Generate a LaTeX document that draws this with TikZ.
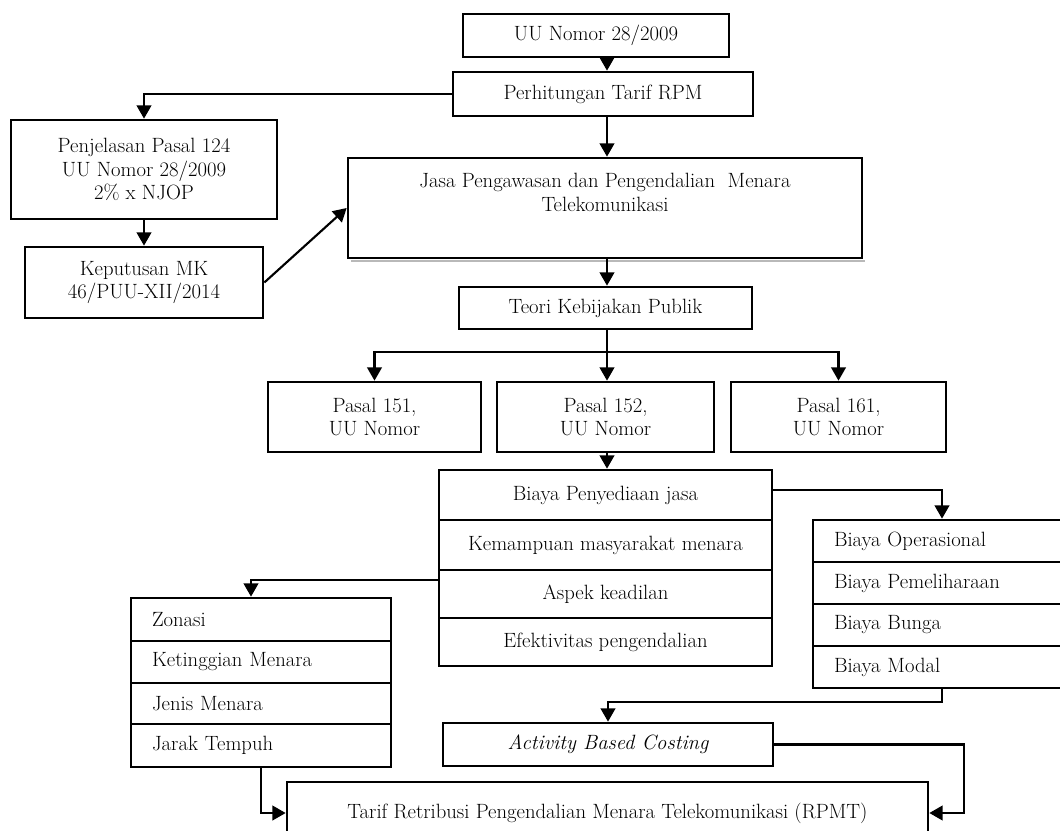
\documentclass[tikz,border=0pt]{standalone}
\usepackage{fontspec}
\usetikzlibrary{arrows.meta}
\begin{document}
\begin{tikzpicture}[x=0.75pt,y=-0.75pt,
  box/.style={draw, line width=2pt, rectangle, inner sep=0pt, align=center,
              font=\fontsize{15.5}{17.6}\selectfont},
  sz/.style 2 args={minimum width=#1*0.75pt, minimum height=#2*0.75pt},
  lbox/.style={box, align=left, inner xsep=15.75pt, text width=#1},
  arr/.style={line width=1.6pt, -{Triangle[length=10pt,width=11pt]}},
  conn/.style={line width=1.6pt}]
\useasboundingbox (0,0) rectangle (1060,831);
\clip (0,0) rectangle (1060,831);

% coordinates for connector bends
\coordinate (ax) at (607,0);
\coordinate (br) at (607,352);
\coordinate (zc) at (251,580);
\coordinate (bc) at (942,490);
\coordinate (mc) at (942,702);
\coordinate (rc) at (964,0);

% shadow under Jasa box
\draw[gray!55, line width=2pt] (351,261) -- (865,261);

\node[box, sz={266}{43}] (uu) at (596,35.5) {UU Nomor 28/2009};
\node[box, sz={300}{44}] (perh) at (603,94) {Perhitungan Tarif RPM};
\node[box, sz={266}{99}] (penj) at (144,169.5) {Penjelasan Pasal 124\\UU Nomor 28/2009\\2\% x NJOP};
\node[box, sz={238}{71}] (kep) at (144,282.5) {Keputusan MK\\46/PUU-XII/2014};
\node[box, sz={514}{100}] (jasa) at (605,208) {Jasa Pengawasan dan Pengendalian\ \ Menara\\Telekomunikasi\\[6pt]\mbox{}};
\node[box, sz={293}{42}] (teori) at (605.5,308) {Teori Kebijakan Publik};

\node[box, sz={213}{70}] (p151) at (374.5,417) {Pasal 151,\\UU Nomor};
\node[box, sz={217}{70}] (p152) at (605.5,417) {Pasal 152,\\UU Nomor};
\node[box, sz={215}{70}] (p161) at (838.5,417) {Pasal 161,\\UU Nomor};

\node[box, sz={333}{50}] (g1) at (605.5,495) {Biaya Penyediaan jasa};
\node[box, sz={333}{50}] (g2) at (605.5,545) {Kemampuan masyarakat menara};
\node[box, sz={333}{48}] (g3) at (605.5,594) {Aspek keadilan};
\node[box, sz={333}{48}] (g4) at (605.5,642) {Efektivitas pengendalian};

\node[lbox=161.25pt, sz={257}{42}] (b1) at (941.5,541) {Biaya Operasional};
\node[lbox=161.25pt, sz={257}{42}] (b2) at (941.5,583) {Biaya Pemeliharaan};
\node[lbox=161.25pt, sz={257}{42}] (b3) at (941.5,625) {Biaya Bunga};
\node[lbox=161.25pt, sz={257}{42}] (b4) at (941.5,667) {Biaya Modal};

\node[lbox=163.5pt, sz={260}{43}] (z1) at (261,619.5) {Zonasi};
\node[lbox=163.5pt, sz={260}{42}] (z2) at (261,662) {Ketinggian Menara};
\node[lbox=163.5pt, sz={260}{41}] (z3) at (261,703.5) {Jenis Menara};
\node[lbox=163.5pt, sz={260}{43}] (z4) at (261,745.5) {Jarak Tempuh};

\node[box, sz={330}{43}] (abc) at (608,744.5) {\itshape Activity Based Costing};
\node[box, sz={641}{62}] (tarif) at (607.5,813) {Tarif Retribusi Pengendalian Menara Telekomunikasi (RPMT)};

% connectors
\draw[arr] (uu.south -| ax) -- (perh.north -| ax);
\draw[arr] (perh.west) -| (penj.north);
\draw[arr] (penj.south) -- (kep.north);
\draw[arr] (kep.east) -- (jasa.west);
\draw[arr] (perh.south -| ax) -- (jasa.north -| ax);
\draw[arr] (jasa.south -| ax) -- (teori.north -| ax);
\draw[conn] (teori.south -| ax) -- (br);
\draw[arr] (br) -| (p151.north);
\draw[arr] (br) -| (p161.north);
\draw[arr] (br) -- (p152.north -| ax);
\draw[arr] (p152.south -| ax) -- (g1.north -| ax);
\draw[arr] (g1.east |- bc) -- (bc) -- (b1.north -| bc);
\draw[arr] (g3.west |- zc) -- (zc) -- (z1.north -| zc);
\draw[arr] (z4.south) |- (tarif.west);
\draw[arr] (b4.south -| mc) -- (mc) -| (abc.north);
\draw[arr] (abc.east) -- (abc.east -| rc) -- (rc |- tarif.east) -- (tarif.east);
\end{tikzpicture}
\end{document}
